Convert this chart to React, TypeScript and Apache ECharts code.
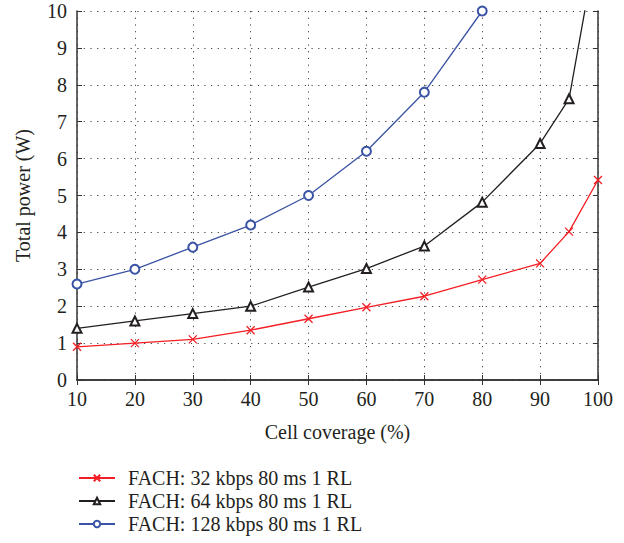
import React, { useEffect, useRef } from "react";
import * as echarts from "echarts";

const coverage = [10, 20, 30, 40, 50, 60, 70, 80, 90, 95, 100];
const fach32 = [0.9, 1.0, 1.1, 1.35, 1.66, 1.97, 2.27, 2.72, 3.16, 4.02, 5.42];
const fach64 = [1.4, 1.6, 1.8, 2.0, 2.52, 3.02, 3.63, 4.82, 6.41, 7.62, 12.0];
const fach128 = [2.6, 3.0, 3.6, 4.2, 5.0, 6.2, 7.8, 10.0];
const seriesNames = [
  "FACH: 32 kbps 80 ms 1 RL",
  "FACH: 64 kbps 80 ms 1 RL",
  "FACH: 128 kbps 80 ms 1 RL",
];

const FONT = "'Liberation Serif', 'DejaVu Serif', serif";
const TXT = "#231f20";

export default function App() {
  const ref = useRef<HTMLDivElement>(null);
  useEffect(() => {
    if (!ref.current) return;
    const chart = echarts.init(ref.current, null, { renderer: "svg" });
    const pair = (ys: number[]) => ys.map((y, i) => [coverage[i], y]);
    const axisLine = { show: true, lineStyle: { color: "#333", width: 1.5 } };
    const splitLine = { show: true, lineStyle: { color: "#444", type: [1.2, 5.5] as any, width: 1 } };
    const tick = { show: true, inside: true, length: 5, lineStyle: { color: "#333" } };
    chart.setOption({
      animation: false,
      grid: { left: 77, top: 11, width: 521, height: 369, containLabel: false },
      legend: {
        orient: "vertical",
        left: 78,
        top: 468,
        padding: 0,
        height: 75,
        itemWidth: 36,
        itemHeight: 8,
        itemGap: 3,
        textStyle: { fontFamily: FONT, fontSize: 20, color: TXT, padding: [0, 0, 0, 8] },
        data: seriesNames,
      },
      xAxis: [
        {
          type: "value",
          min: 10,
          max: 100,
          interval: 10,
          name: "Cell coverage (%)",
          nameLocation: "middle",
          nameGap: 42,
          nameTextStyle: { fontFamily: FONT, fontSize: 20, color: TXT },
          axisLine,
          axisTick: tick,
          axisLabel: { fontFamily: FONT, fontSize: 20, color: TXT, margin: 9 },
          splitLine,
        },
        {
          type: "value",
          position: "top",
          min: 10,
          max: 100,
          interval: 10,
          axisLine,
          axisTick: tick,
          axisLabel: { show: false },
          splitLine: { show: false },
        },
      ],
      yAxis: [
        {
          type: "value",
          min: 0,
          max: 10,
          interval: 1,
          name: "Total power (W)",
          nameLocation: "middle",
          nameGap: 44,
          nameTextStyle: { fontFamily: FONT, fontSize: 20, color: TXT },
          axisLine,
          axisTick: tick,
          axisLabel: { fontFamily: FONT, fontSize: 20, color: TXT, margin: 10 },
          splitLine,
        },
        {
          type: "value",
          position: "right",
          min: 0,
          max: 10,
          interval: 1,
          axisLine,
          axisTick: tick,
          axisLabel: { show: false },
          splitLine: { show: false },
        },
      ],
      series: [
        {
          name: seriesNames[0],
          type: "line",
          data: pair(fach32),
          symbol: "path://M0,0L10,10M10,0L0,10",
          symbolSize: 8,
          lineStyle: { color: "#f41e24", width: 1.3 },
          itemStyle: { color: "#f41e24", borderColor: "#f41e24", borderWidth: 1.3 },
          clip: true,
        },
        {
          name: seriesNames[1],
          type: "line",
          data: pair(fach64),
          symbol: "emptyTriangle",
          symbolSize: 9,
          lineStyle: { color: "#231f20", width: 1.3 },
          itemStyle: { color: "#231f20", borderColor: "#231f20", borderWidth: 1.3 },
          clip: true,
        },
        {
          name: seriesNames[2],
          type: "line",
          data: pair(fach128),
          symbol: "emptyCircle",
          symbolSize: 9,
          lineStyle: { color: "#3a53a4", width: 1.3 },
          itemStyle: { color: "#3a53a4", borderColor: "#3a53a4", borderWidth: 1.3 },
          clip: true,
        },
      ],
    });
    return () => chart.dispose();
  }, []);
  return <div ref={ref} style={{ width: 624, height: 543, position: "absolute", left: 0, top: 0, background: "#fff" }} />;
}
